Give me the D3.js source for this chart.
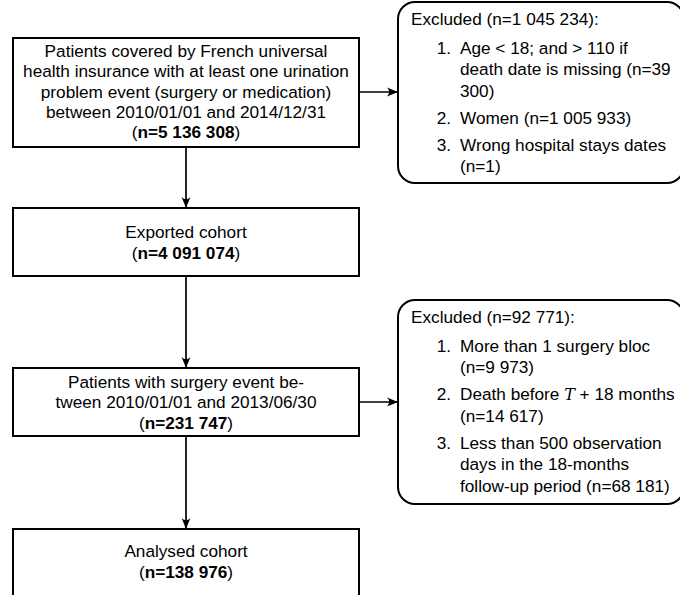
<!DOCTYPE html>
<html>
<head>
<meta charset="utf-8">
<script src="https://cdn.jsdelivr.net/npm/d3@7"></script>
<style>
  html, body { margin: 0; padding: 0; background: #fff; }
  svg { display: block; }
  text { font-family: "Liberation Sans", Arimo, Helvetica, Arial, sans-serif; font-size: 17.2px; fill: #000; }
</style>
</head>
<body>
<svg id="chart" width="680" height="595"></svg>
<script>
// ---- data ----
const stepLines = [
  ["Patients covered by French universal", "health insurance with at least one urination", "problem event (surgery or medication)", "between 2010/01/01 and 2014/12/31"],
  ["Exported cohort"],
  ["Patients with surgery event be-", "tween 2010/01/01 and 2013/06/30"],
  ["Analysed cohort"]
];
const stepCounts = ["n=5 136 308", "n=4 091 074", "n=231 747", "n=138 976"];
const excludedTotals = ["n=1 045 234", "n=92 771"];
const excludedAfterStep = [0, 2];
const excludedItems = [
  [
    ["Age < 18; and > 110 if", "death date is missing (n=39", "300)"],
    ["Women (n=1 005 933)"],
    ["Wrong hospital stays dates", "(n=1)"]
  ],
  [
    ["More than 1 surgery bloc", "(n=9 973)"],
    ["Death before §T§ + 18 months", "(n=14 617)"],
    ["Less than 500 observation", "days in the 18-months", "follow-up period (n=68 181)"]
  ]
];

// ---- layout ----
const svg = d3.select("#chart");
const mainX = d3.scaleLinear().domain([0, 1]).range([13, 359]);
const stepBoxes = [
  { top: 38, bottom: 147, firstLine: 51 },
  { top: 208, bottom: 276, firstLine: 232 },
  { top: 368, bottom: 436, firstLine: 382 },
  { top: 529, bottom: 605, firstLine: 551 }
];
const exBoxes = [
  { top: 2, bottom: 183, arrowY: 92 },
  { top: 300, bottom: 504, arrowY: 402 }
];
const exX = d3.scaleLinear().domain([0, 1]).range([398, 684]);
const mainLH = 20.2;
const exLH = 21.6, exGap = 27;

const defs = svg.append("defs");
defs.append("marker")
  .attr("id", "arrow")
  .attr("viewBox", "0 0 10 10")
  .attr("refX", 10).attr("refY", 5)
  .attr("markerWidth", 11).attr("markerHeight", 11)
  .attr("markerUnits", "userSpaceOnUse")
  .attr("orient", "auto")
  .append("path")
  .attr("d", "M0,1 Q4,5 0,9 L10,5 Z")
  .attr("fill", "#000");

const cx = (mainX(0) + mainX(1)) / 2;

// vertical arrows between steps
for (let i = 0; i < stepBoxes.length - 1; i++) {
  svg.append("line")
    .attr("x1", cx).attr("x2", cx)
    .attr("y1", stepBoxes[i].bottom).attr("y2", stepBoxes[i + 1].top)
    .attr("stroke", "#000").attr("stroke-width", 1.7)
    .attr("marker-end", "url(#arrow)");
}

// step boxes
stepLines.forEach((lines, i) => {
  const b = stepBoxes[i];
  svg.append("rect")
    .attr("x", mainX(0)).attr("y", b.top)
    .attr("width", mainX(1) - mainX(0)).attr("height", b.bottom - b.top)
    .attr("fill", "none").attr("stroke", "#000").attr("stroke-width", 2);
  lines.forEach((ln, j) => {
    svg.append("text")
      .attr("x", cx).attr("y", b.firstLine + j * mainLH)
      .attr("dy", "0.36em").attr("text-anchor", "middle")
      .text(ln);
  });
  const t = svg.append("text")
    .attr("x", cx).attr("y", b.firstLine + lines.length * mainLH + 0.5)
    .attr("dy", "0.36em").attr("text-anchor", "middle");
  t.append("tspan").text("(");
  t.append("tspan").attr("font-weight", "bold").text(stepCounts[i]);
  t.append("tspan").text(")");
});

// excluded boxes
excludedTotals.forEach((tot, k) => {
  const b = exBoxes[k];
  svg.append("line")
    .attr("x1", mainX(1)).attr("x2", exX(0))
    .attr("y1", b.arrowY).attr("y2", b.arrowY)
    .attr("stroke", "#000").attr("stroke-width", 1.7)
    .attr("marker-end", "url(#arrow)");
  svg.append("rect")
    .attr("x", exX(0)).attr("y", b.top)
    .attr("width", exX(1) - exX(0)).attr("height", b.bottom - b.top)
    .attr("rx", 17).attr("ry", 17)
    .attr("fill", "none").attr("stroke", "#000").attr("stroke-width", 2);
  let y = b.top + 17;
  svg.append("text")
    .attr("x", exX(0) + 13).attr("y", y).attr("dy", "0.36em")
    .text("Excluded (" + tot + "):");
  y += 28.5;
  excludedItems[k].forEach((item, m) => {
    svg.append("text")
      .attr("x", exX(0) + 53).attr("y", y).attr("dy", "0.36em")
      .attr("text-anchor", "end")
      .text((m + 1) + ".");
    item.forEach((ln, j) => {
      const t = svg.append("text")
        .attr("x", exX(0) + 62).attr("y", y).attr("dy", "0.36em");
      ln.split("§").forEach((part, p) => {
        const ts = t.append("tspan").text(part);
        if (p % 2 === 1) {
          ts.attr("font-family", "'DejaVu Serif', 'Liberation Serif', serif")
            .attr("font-style", "italic").attr("font-size", "16px");
        }
      });
      if (j < item.length - 1) y += exLH;
    });
    y += exGap;
  });
});
</script>
</body>
</html>
